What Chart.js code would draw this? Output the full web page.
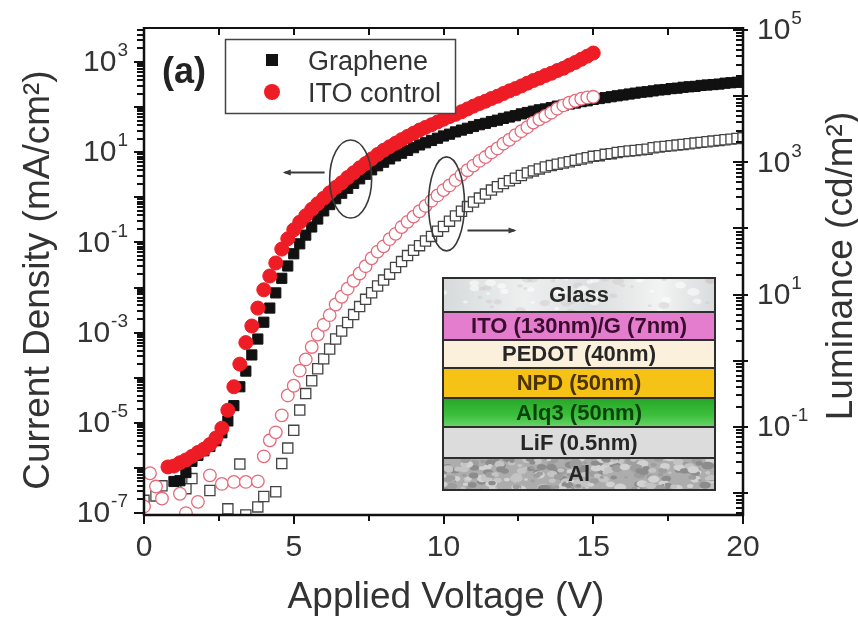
<!DOCTYPE html>
<html>
<head>
<meta charset="utf-8">
<title>Graphene vs ITO OLED</title>
<script src="https://cdn.jsdelivr.net/npm/chart.js@4.4.1/dist/chart.umd.min.js"></script>
<style>
  html, body { margin: 0; padding: 0; background: #fff; }
  #wrap { width: 858px; height: 617px; }
</style>
</head>
<body>
<div id="wrap"><canvas id="chart" width="858" height="617"></canvas></div>
<script>
// applied voltage (V), 0.2 V steps; every series below is indexed on this
const voltage = [
  0.0, 0.2, 0.4, 0.6, 0.8, 1.0, 1.2, 1.4, 1.6, 1.8,
  2.0, 2.2, 2.4, 2.6, 2.8, 3.0, 3.2, 3.4, 3.6, 3.8,
  4.0, 4.2, 4.4, 4.6, 4.8, 5.0, 5.2, 5.4, 5.6, 5.8,
  6.0, 6.2, 6.4, 6.6, 6.8, 7.0, 7.2, 7.4, 7.6, 7.8,
  8.0, 8.2, 8.4, 8.6, 8.8, 9.0, 9.2, 9.4, 9.6, 9.8,
  10.0, 10.2, 10.4, 10.6, 10.8, 11.0, 11.2, 11.4, 11.6, 11.8,
  12.0, 12.2, 12.4, 12.6, 12.8, 13.0, 13.2, 13.4, 13.6, 13.8,
  14.0, 14.2, 14.4, 14.6, 14.8, 15.0, 15.2, 15.4, 15.6, 15.8,
  16.0, 16.2, 16.4, 16.6, 16.8, 17.0, 17.2, 17.4, 17.6, 17.8,
  18.0, 18.2, 18.4, 18.6, 18.8, 19.0, 19.2, 19.4, 19.6, 19.8,
  20.0
];

// current density (mA/cm2), graphene anode
const grapheneJ = [
  null, null, null, null, null, 5.0e-7, 5.2e-7, 7.9e-7, 1.4e-6, 1.9e-6,
  2.4e-6, 3.0e-6, 4.0e-6, 6.0e-6, 1.1e-5, 2.4e-5, 6.3e-5, 1.4e-4, 3.2e-4, 7.2e-4,
  1.7e-3, 3.5e-3, 7.6e-3, 0.016, 0.030, 0.056, 0.093, 0.145, 0.22, 0.33,
  0.50, 0.69, 0.93, 1.23, 1.58, 2.04, 2.57, 3.24, 4.07, 5.0,
  6.0, 7.1, 8.3, 9.5, 11.0, 12.6, 14.5, 16.2, 18.2, 20.4,
  22.9, 25.1, 28.2, 30.9, 33.9, 37.2, 40.7, 43.7, 47.9, 51.3,
  56.2, 60.3, 64.6, 70.8, 75.9, 81.3, 87.1, 91.2, 97.7, 105,
  110, 117, 123, 132, 138, 148, 155, 162, 170, 178,
  186, 195, 204, 214, 219, 229, 240, 245, 257, 263,
  275, 282, 288, 302, 309, 316, 324, 339, 347, 355,
  363
];

// current density (mA/cm2), ITO control
const itoJ = [
  null, null, null, null, 1.05e-6, 1.1e-6, 1.3e-6, 1.5e-6, 1.8e-6, 2.2e-6,
  2.6e-6, 3.3e-6, 4.6e-6, 7.6e-6, 1.9e-5, 6.3e-5, 2.0e-4, 6.0e-4, 1.4e-3, 3.5e-3,
  8.9e-3, 0.018, 0.035, 0.071, 0.12, 0.19, 0.28, 0.39, 0.54, 0.72,
  0.95, 1.26, 1.66, 2.1, 2.75, 3.5, 4.5, 5.6, 7.1, 8.9,
  11, 13.2, 15.8, 19, 22.4, 26.3, 31, 35.5, 40.7, 46.8,
  53.7, 61.7, 69, 79, 91, 105, 120, 135, 155, 174,
  200, 229, 257, 295, 339, 389, 437, 501, 562, 646,
  724, 851, 977, 1150, 1350, 1580
];

// luminance (cd/m2), graphene anode
const grapheneL = [
  7.8e-3, null, 9.1e-3, 0.0129, null, null, null, 0.0117, 0.0166, null,
  null, 0.011, null, null, 5.8e-3, null, 0.0275, 4.7e-3, null, 6.2e-3,
  8.9e-3, null, 0.0105, 0.028, 0.048, 0.089, 0.18, 0.32, 0.5, 0.76,
  1.07, 1.51, 2.14, 2.82, 3.8, 5.0, 6.6, 8.5, 10.7, 13.5,
  16.6, 20.4, 25.7, 31.6, 38.9, 46.8, 55, 64.6, 75.9, 91,
  107, 129, 155, 182, 214, 251, 288, 331, 380, 427,
  479, 525, 575, 631, 692, 741, 794, 851, 891, 933,
  977, 1020, 1070, 1120, 1170, 1230, 1260, 1320, 1350, 1410,
  1450, 1480, 1510, 1550, 1580, 1660, 1700, 1740, 1780, 1820,
  1860, 1910, 1950, 2000, 2040, 2090, 2140, 2190, 2240, 2290,
  2340
];

// luminance (cd/m2), ITO control
const itoL = [
  6.3e-3, 0.020, 0.0126, 8.3e-3, null, null, 9.8e-3, 5.0e-3, null, 7.4e-3,
  null, 0.0186, null, 0.0138, null, 0.0148, null, 0.0148, null, 0.0151,
  0.036, 0.063, 0.083, 0.15, 0.30, 0.42, 0.71, 1.05, 1.62, 2.5,
  3.5, 4.9, 7.1, 9.3, 12.3, 16.2, 20.9, 26.9, 35.5, 44.7,
  53.7, 69, 83, 105, 126, 151, 182, 219, 263, 316,
  380, 447, 537, 646, 759, 891, 1050, 1200, 1410, 1620,
  1910, 2190, 2570, 2950, 3390, 3980, 4470, 5010, 5620, 6460,
  7240, 7940, 8510, 9120, 9550, 9770
];

// axis ticks
const voltTicks = [0, 5, 10, 15, 20];
const currentExps = [3, 1, -1, -3, -5, -7];
const luminanceExps = [5, 3, 1, -1];

// device stack drawn in the inset, top to bottom
const stackLayers = ['Glass', 'ITO (130nm)/G (7nm)', 'PEDOT (40nm)', 'NPD (50nm)', 'Alq3 (50nm)', 'LiF (0.5nm)', 'Al'];

const FONT = '"Liberation Sans", Arial, Helvetica, sans-serif';
const RED = '#ee1c25';
const PINK = '#e66a7a';
const INK = '#333333';

const layerFill = ['#e3e6e6', '#e57dcf', '#faf0dc', '#f6c216', '#38b838', '#dcdcdc', '#adadad'];
const layerInk = ['#2a2a2a', '#3a0c2e', '#262626', '#4a3300', '#0c420c', '#262626', '#262626'];
const layerEdges = [278, 312, 340, 368, 398, 427, 458, 490];

function frac(v) { return v - Math.floor(v); }

function powLabel(ctx, x, y, exp, align) {
  const sup = String(exp);
  ctx.font = '30px ' + FONT;
  const bw = ctx.measureText('10').width;
  ctx.font = '19px ' + FONT;
  const sw = ctx.measureText(sup).width;
  const left = align === 'right' ? x - bw - sw - 1 : x;
  ctx.textAlign = 'left';
  ctx.textBaseline = 'middle';
  ctx.font = '30px ' + FONT;
  ctx.fillText('10', left, y + 1);
  ctx.font = '19px ' + FONT;
  ctx.fillText(sup, left + bw + 1, y - 11);
}

// decade ticks plus 2..9 minor ticks along a log axis
function logTicks(ctx, scale, x0, outDir, len) {
  const lo = Math.floor(Math.log10(scale.min));
  const hi = Math.ceil(Math.log10(scale.max));
  ctx.strokeStyle = '#111';
  for (let e = lo; e <= hi; e++) {
    for (let m = 1; m <= 9; m++) {
      const v = m * Math.pow(10, e);
      if (v < scale.min || v > scale.max) continue;
      const py = Math.round(scale.getPixelForValue(v));
      const major = m === 1;
      const x1 = x0 + outDir * (major ? len.majorOut : len.minorOut);
      const x2 = x0 - outDir * (major ? len.majorIn : len.minorIn);
      ctx.fillStyle = '#111';
      ctx.fillRect(Math.min(x1, x2), py - 1, Math.abs(x2 - x1), 2);
    }
  }
}

function drawFrame(ctx, a, xs, yl, yr) {
  ctx.save();
  ctx.strokeStyle = '#111';
  ctx.lineWidth = 2;
  ctx.beginPath();
  ctx.moveTo(a.left, a.top);
  ctx.lineTo(a.right, a.top);
  ctx.stroke();
  ctx.lineWidth = 2.5;
  ctx.beginPath();
  ctx.moveTo(a.left, a.top - 1);
  ctx.lineTo(a.left, a.bottom + 1);
  ctx.moveTo(a.right, a.top - 1);
  ctx.lineTo(a.right, a.bottom + 1);
  ctx.moveTo(a.left - 1, a.bottom);
  ctx.lineTo(a.right + 1, a.bottom);
  ctx.stroke();

  // voltage ticks: major every 5 V, minor halfway
  ctx.fillStyle = '#111';
  for (let v = xs.min; v <= xs.max; v += 2.5) {
    const px = Math.round(xs.getPixelForValue(v));
    const major = v % 5 === 0;
    ctx.fillRect(px - 1, a.bottom, 2, major ? 9 : 6);
    ctx.fillRect(px - 1, a.top, 2, 7);
  }

  logTicks(ctx, yl, a.left, -1, { majorOut: 10, majorIn: 0, minorOut: 7, minorIn: 0 });
  logTicks(ctx, yr, a.right, 1, { majorOut: 5, majorIn: 10, minorOut: 0, minorIn: 7 });
  ctx.restore();
}

function drawAxisText(ctx, a, xs, yl, yr) {
  ctx.save();
  ctx.fillStyle = INK;
  currentExps.forEach(e => powLabel(ctx, 128, yl.getPixelForValue(Math.pow(10, e)), e, 'right'));
  luminanceExps.forEach(e => powLabel(ctx, 757, yr.getPixelForValue(Math.pow(10, e)), e, 'left'));

  ctx.font = '30px ' + FONT;
  ctx.textAlign = 'center';
  ctx.textBaseline = 'middle';
  voltTicks.forEach(v => ctx.fillText(String(v), xs.getPixelForValue(v), 548));

  ctx.font = '37px ' + FONT;
  ctx.textBaseline = 'alphabetic';
  ctx.fillText('Applied Voltage (V)', 446, 608);

  // rotated titles, read bottom to top
  ctx.save();
  ctx.translate(49, 280);
  ctx.rotate(-Math.PI / 2);
  ctx.fillText('Current Density (mA/cm\u00B2)', 0, 0);
  ctx.restore();

  ctx.save();
  ctx.translate(852, 266);
  ctx.rotate(-Math.PI / 2);
  ctx.fillText('Luminance (cd/m\u00B2)', 0, 0);
  ctx.restore();

  ctx.font = 'bold 36px ' + FONT;
  ctx.textAlign = 'left';
  ctx.fillStyle = '#222';
  ctx.fillText('(a)', 162, 83);
  ctx.restore();
}

function drawLegend(ctx) {
  ctx.save();
  ctx.fillStyle = '#fff';
  ctx.fillRect(225, 39, 230, 74);
  ctx.strokeStyle = '#444';
  ctx.lineWidth = 1.5;
  ctx.strokeRect(225.5, 39.5, 230, 74);

  ctx.fillStyle = '#111';
  ctx.fillRect(266, 54, 12, 12);
  ctx.fillStyle = RED;
  ctx.beginPath();
  ctx.arc(272, 92, 8, 0, Math.PI * 2);
  ctx.fill();

  ctx.fillStyle = INK;
  ctx.font = '27px ' + FONT;
  ctx.textAlign = 'left';
  ctx.textBaseline = 'alphabetic';
  ctx.fillText('Graphene', 308, 70);
  ctx.fillText('ITO control', 308, 102);
  ctx.restore();
}

// ellipses group each pair of curves with its axis, arrows point to that axis
function drawAnnotations(ctx, xs, yl, yr) {
  ctx.save();
  ctx.strokeStyle = '#3a3a3a';
  ctx.fillStyle = '#3a3a3a';
  ctx.lineWidth = 1.6;

  ctx.beginPath();
  ctx.ellipse(xs.getPixelForValue(6.9), yl.getPixelForValue(2.55), 21, 39, 0, 0, Math.PI * 2);
  ctx.stroke();
  ctx.beginPath();
  ctx.ellipse(xs.getPixelForValue(10.1), yr.getPixelForValue(235), 18, 47, 0, 0, Math.PI * 2);
  ctx.stroke();

  const arrow = (x0, x1, y) => {
    const d = Math.sign(x1 - x0);
    ctx.lineWidth = 2;
    ctx.beginPath();
    ctx.moveTo(x0, y);
    ctx.lineTo(x1, y);
    ctx.stroke();
    ctx.beginPath();
    ctx.moveTo(x1 + d * 2, y);
    ctx.lineTo(x1 - d * 6, y - 3);
    ctx.lineTo(x1 - d * 6, y + 3);
    ctx.closePath();
    ctx.fill();
  };
  arrow(xs.getPixelForValue(6.03), xs.getPixelForValue(4.7), Math.round(yl.getPixelForValue(3.6)) + 0.5);
  arrow(xs.getPixelForValue(10.8), xs.getPixelForValue(12.37), Math.round(yr.getPixelForValue(95.5)) + 0.5);
  ctx.restore();
}

function speckle(ctx, x, y, w, h, seed, count, colors) {
  for (let i = 0; i < count; i++) {
    const px = x + frac(Math.sin((i + seed) * 12.9898) * 43758.5453) * w;
    const py = y + frac(Math.sin((i + seed) * 78.233) * 24634.6345) * h;
    const r = 1 + frac(Math.sin((i + seed) * 39.425) * 11399.13) * 3;
    ctx.fillStyle = colors[i % colors.length];
    ctx.beginPath();
    ctx.ellipse(px, py, r * 1.6, r, 0, 0, Math.PI * 2);
    ctx.fill();
  }
}

function drawInset(ctx) {
  const left = 443, right = 715, w = right - left;
  ctx.save();
  stackLayers.forEach((name, i) => {
    const top = layerEdges[i], bot = layerEdges[i + 1], h = bot - top;
    let fill = layerFill[i];
    if (name === 'Glass') {
      fill = ctx.createLinearGradient(left, 0, right, 0);
      fill.addColorStop(0, '#d6dada');
      fill.addColorStop(0.3, '#eef0f0');
      fill.addColorStop(0.55, '#dcdfdf');
      fill.addColorStop(0.8, '#f2f3f3');
      fill.addColorStop(1, '#d8dcdc');
    } else if (name.startsWith('Alq3')) {
      fill = ctx.createLinearGradient(0, top, 0, bot);
      fill.addColorStop(0, '#27a527');
      fill.addColorStop(0.6, '#3cc03c');
      fill.addColorStop(1, '#6ad46a');
    }
    ctx.fillStyle = fill;
    ctx.fillRect(left, top, w, h);
    ctx.save();
    ctx.beginPath();
    ctx.rect(left, top, w, h);
    ctx.clip();
    if (name === 'Glass') speckle(ctx, left, top, w, h, 3, 60, ['rgba(255,255,255,0.55)', 'rgba(200,190,195,0.35)']);
    if (name === 'Al') speckle(ctx, left, top, w, h, 11, 260, ['#8c8c8c', '#d2d2d2', '#9e9e9e', '#c4c4c4']);
    ctx.restore();

    ctx.fillStyle = layerInk[i];
    ctx.font = 'bold 22px ' + FONT;
    ctx.textAlign = 'center';
    ctx.textBaseline = 'middle';
    ctx.fillText(name, (left + right) / 2, top + h / 2 + 1);
  });

  ctx.strokeStyle = '#2e2e2e';
  ctx.lineWidth = 2;
  for (let i = 1; i < layerEdges.length - 1; i++) {
    ctx.beginPath();
    ctx.moveTo(left, layerEdges[i]);
    ctx.lineTo(right, layerEdges[i]);
    ctx.stroke();
  }
  ctx.strokeRect(left, layerEdges[0], w, layerEdges[layerEdges.length - 1] - layerEdges[0]);
  ctx.restore();
}

const figureDecor = {
  id: 'figureDecor',
  beforeDraw(chart) {
    const ctx = chart.ctx;
    ctx.save();
    ctx.fillStyle = '#fff';
    ctx.fillRect(0, 0, chart.width, chart.height);
    ctx.restore();
  },
  afterDatasetsDraw(chart) {
    const { ctx, chartArea, scales } = chart;
    drawAnnotations(ctx, scales.x, scales.y, scales.y2);
    drawInset(ctx);
    drawLegend(ctx);
    drawFrame(ctx, chartArea, scales.x, scales.y, scales.y2);
    drawAxisText(ctx, chartArea, scales.x, scales.y, scales.y2);
  }
};

// first dataset is painted last, so the ITO current sits on top
new Chart(document.getElementById('chart'), {
  type: 'line',
  data: {
    labels: voltage,
    datasets: [
      {
        label: 'ITO control',
        data: itoJ,
        yAxisID: 'y',
        showLine: false,
        clip: 0,
        pointStyle: 'circle',
        pointRadius: 7,
        pointBorderWidth: 1,
        pointBackgroundColor: RED,
        pointBorderColor: RED
      },
      {
        label: 'ITO control (luminance)',
        data: itoL,
        yAxisID: 'y2',
        showLine: false,
        clip: 0,
        pointStyle: 'circle',
        pointRadius: 6.3,
        pointBorderWidth: 1.3,
        pointBackgroundColor: '#ffffff',
        pointBorderColor: PINK
      },
      {
        label: 'Graphene',
        data: grapheneJ,
        yAxisID: 'y',
        showLine: false,
        clip: 0,
        pointStyle: 'rect',
        pointRadius: 7.2,
        pointBorderWidth: 1,
        pointBackgroundColor: '#111111',
        pointBorderColor: '#111111'
      },
      {
        label: 'Graphene (luminance)',
        data: grapheneL,
        yAxisID: 'y2',
        showLine: false,
        clip: 0,
        pointStyle: 'rect',
        pointRadius: 7.2,
        pointBorderWidth: 1.3,
        pointBackgroundColor: '#ffffff',
        pointBorderColor: '#444444'
      }
    ]
  },
  options: {
    responsive: false,
    animation: false,
    events: [],
    layout: { padding: { left: 144, top: 28, right: 115, bottom: 102 } },
    plugins: {
      legend: { display: false },
      tooltip: { enabled: false }
    },
    scales: {
      x: { type: 'linear', min: 0, max: 20, display: false },
      y: { type: 'logarithmic', position: 'left', min: 9.03e-8, max: 5675, display: false },
      y2: { type: 'logarithmic', position: 'right', min: 4.68e-3, max: 1.07e5, display: false }
    }
  },
  plugins: [figureDecor]
});
</script>
</body>
</html>
